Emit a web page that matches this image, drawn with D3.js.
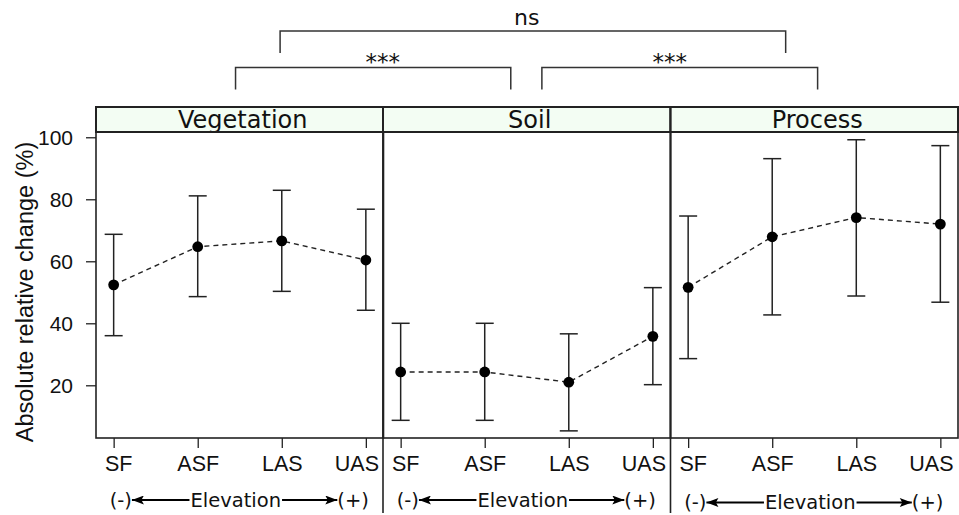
<!DOCTYPE html>
<html>
<head>
<meta charset="utf-8">
<script src="https://cdn.jsdelivr.net/npm/d3@7"></script>
<style>
  body { margin: 0; background: #fff; }
  svg { display: block; }
</style>
</head>
<body>
<div id="chart-area"></div>
<script>
// categories and values
var categories = ["SF", "ASF", "LAS", "UAS"];
var panelNames = ["Vegetation", "Soil", "Process"];

var vegMean = [52.4, 64.7, 66.6, 60.4];
var vegLow  = [36.0, 48.6, 50.3, 44.2];
var vegHigh = [68.7, 81.1, 82.9, 76.8];

var soilMean = [24.3, 24.3, 21.0, 35.8];
var soilLow  = [8.7, 8.7, 5.3, 20.2];
var soilHigh = [40.0, 40.0, 36.6, 51.5];

var procMean = [51.6, 67.9, 74.1, 72.0];
var procLow  = [28.6, 42.7, 48.8, 46.8];
var procHigh = [74.6, 93.1, 99.2, 97.3];

var yTicks = [20, 40, 60, 80, 100];

// significance brackets: panel index + position in category steps
var brackets = [
  {from: [0, 1.45], to: [1, 1.31], label: "***", labelAt: [0, 3.2], level: 0},
  {from: [1, 1.68], to: [2, 1.54], label: "***", labelAt: [1, 3.2], level: 0},
  {from: [0, 1.98], to: [2, 1.16], label: "ns",  labelAt: [1, 1.5], level: 1}
];

var width = 959, height = 515;
var stripTop = 107, plotTop = 132, plotBottom = 438;
var panelLeft = [96, 383, 670.5];
var panelW = 287.5;
var ink = "#222";
var sans = "'Liberation Sans', Arial, Helvetica, sans-serif";
var dejavu = "'DejaVu Sans', sans-serif";

var svg = d3.select("#chart-area")
  .append("svg")
    .attr("width", width)
    .attr("height", height);

var defs = svg.append("defs");
defs.append("marker")
    .attr("id", "arrow")
    .attr("viewBox", "0 0 12 9")
    .attr("refX", 12)
    .attr("refY", 4.5)
    .attr("markerWidth", 13)
    .attr("markerHeight", 9)
    .attr("markerUnits", "userSpaceOnUse")
    .attr("orient", "auto")
  .append("path")
    .attr("d", "M0,0 L12,4.5 L0,9 L2.5,4.5 Z")
    .attr("fill", "#000");

var y = d3.scaleLinear()
  .domain([3, 101.7])
  .range([plotBottom, plotTop]);

var panels = [
  {name: panelNames[0], mean: vegMean, low: vegLow, high: vegHigh},
  {name: panelNames[1], mean: soilMean, low: soilLow, high: soilHigh},
  {name: panelNames[2], mean: procMean, low: procLow, high: procHigh}
];

panels.forEach(function(p, i) {
  p.left = panelLeft[i];
  p.x = d3.scalePoint()
    .domain(categories)
    .range([p.left, p.left + panelW])
    .padding(0.21);
  p.step = p.x.step();
  p.pos = function(v) { return p.x(categories[0]) + v * p.step; };
  p.rows = categories.map(function(c, j) {
    return {cat: c, mean: p.mean[j], low: p.low[j], high: p.high[j]};
  });
});

// y axis
var yAxisCall = d3.axisLeft(y)
  .tickValues(yTicks)
  .tickSize(10)
  .tickPadding(13);
var yAxis = svg.append("g")
  .attr("transform", "translate(" + panelLeft[0] + ",0)")
  .call(yAxisCall);
yAxis.select(".domain").remove();
yAxis.selectAll("line").attr("stroke", ink).attr("stroke-width", 1.3);
yAxis.selectAll("text")
  .attr("font-family", sans)
  .attr("font-size", "21px")
  .attr("fill", "#111");

// y label
svg.append("text")
  .attr("transform", "translate(33,292) rotate(-90)")
  .attr("text-anchor", "middle")
  .attr("font-family", sans)
  .attr("font-size", "23.5px")
  .attr("fill", "#111")
  .text("Absolute relative change (%)");

panels.forEach(function(p, i) {
  var g = svg.append("g");

  // strip
  g.append("rect")
    .attr("x", p.left)
    .attr("y", stripTop)
    .attr("width", panelW)
    .attr("height", plotTop - stripTop)
    .attr("fill", "#f3fdf3")
    .attr("stroke", "#222")
    .attr("stroke-width", 2);

  g.append("text")
    .attr("x", p.left + panelW / 2 + 3)
    .attr("y", 127.5)
    .attr("text-anchor", "middle")
    .attr("font-family", dejavu)
    .attr("font-size", "24px")
    .attr("fill", "#111")
    .text(p.name);

  // x axis
  var xAxisCall = d3.axisBottom(p.x)
    .tickSize(10)
    .tickPadding(8);
  var xa = g.append("g")
    .attr("transform", "translate(0," + plotBottom + ")")
    .call(xAxisCall);
  xa.select(".domain").remove();
  xa.selectAll("line").attr("stroke", ink).attr("stroke-width", 1.3);
  // keep edge labels inside their panel
  var minX = p.left + 8.5, maxX = Math.min(p.left + panelW - 5, width - 2);
  xa.selectAll("text")
    .attr("font-family", sans)
    .attr("font-size", "21.5px")
    .attr("fill", "#111")
    .each(function(d) {
      var w = this.getComputedTextLength();
      var cx = p.x(d);
      var shift = 0;
      if (cx - w / 2 < minX) shift = minX - (cx - w / 2);
      if (cx + w / 2 > maxX) shift = maxX - (cx + w / 2);
      d3.select(this).attr("x", shift);
    });

  // panel frame
  g.append("rect")
    .attr("x", p.left)
    .attr("y", plotTop)
    .attr("width", panelW)
    .attr("height", plotBottom - plotTop)
    .attr("fill", "none")
    .attr("stroke", "#222")
    .attr("stroke-width", 1.6);

  // dashed line through means
  var line = d3.line()
    .x(function(d) { return p.x(d.cat); })
    .y(function(d) { return y(d.mean); });
  g.append("path")
    .datum(p.rows)
    .attr("d", line)
    .attr("fill", "none")
    .attr("stroke", ink)
    .attr("stroke-width", 1.4)
    .attr("stroke-dasharray", "5,4");

  // error bars
  var eb = g.selectAll(".eb")
    .data(p.rows)
    .enter().append("g")
      .attr("class", "eb")
      .attr("stroke", ink)
      .attr("stroke-width", 1.5);
  eb.append("line")
    .attr("x1", function(d) { return p.x(d.cat); })
    .attr("x2", function(d) { return p.x(d.cat); })
    .attr("y1", function(d) { return y(d.low); })
    .attr("y2", function(d) { return y(d.high); });
  eb.append("line")
    .attr("x1", function(d) { return p.x(d.cat) - 9; })
    .attr("x2", function(d) { return p.x(d.cat) + 9; })
    .attr("y1", function(d) { return y(d.low); })
    .attr("y2", function(d) { return y(d.low); });
  eb.append("line")
    .attr("x1", function(d) { return p.x(d.cat) - 9; })
    .attr("x2", function(d) { return p.x(d.cat) + 9; })
    .attr("y1", function(d) { return y(d.high); })
    .attr("y2", function(d) { return y(d.high); });

  g.selectAll(".pt")
    .data(p.rows)
    .enter().append("circle")
      .attr("class", "pt")
      .attr("cx", function(d) { return p.x(d.cat); })
      .attr("cy", function(d) { return y(d.mean); })
      .attr("r", 5.4)
      .attr("fill", "#000");

  // elevation annotation
  var rowY = i == 2 ? 509 : 506.5;
  var arrowY = rowY - 6.5;
  var fs = "19.5px";
  var minus = g.append("text")
    .attr("x", p.x(categories[0]) - 4)
    .attr("y", rowY)
    .attr("font-family", dejavu)
    .attr("font-size", fs)
    .attr("fill", "#111")
    .text("(-)");
  var plus = g.append("text")
    .attr("x", p.x(categories[3]) + 3)
    .attr("y", rowY)
    .attr("text-anchor", "end")
    .attr("font-family", dejavu)
    .attr("font-size", fs)
    .attr("fill", "#111")
    .text("(+)");
  var elevX = p.left + panelW / 2 - 4;
  var elev = g.append("text")
    .attr("x", elevX)
    .attr("y", rowY)
    .attr("text-anchor", "middle")
    .attr("font-family", dejavu)
    .attr("font-size", fs)
    .attr("fill", "#111")
    .text("Elevation");
  var ew = elev.node().getComputedTextLength();
  var mw = minus.node().getComputedTextLength();
  var pw = plus.node().getComputedTextLength();
  g.append("line")
    .attr("x1", elevX - ew / 2 - 1)
    .attr("x2", p.x(categories[0]) - 4 + mw)
    .attr("y1", arrowY).attr("y2", arrowY)
    .attr("stroke", "#000").attr("stroke-width", 2)
    .attr("marker-end", "url(#arrow)");
  g.append("line")
    .attr("x1", elevX + ew / 2 + 1)
    .attr("x2", p.x(categories[3]) + 3 - pw)
    .attr("y1", arrowY).attr("y2", arrowY)
    .attr("stroke", "#000").attr("stroke-width", 2)
    .attr("marker-end", "url(#arrow)");
});

// dividers running down through the tick labels
[1, 2].forEach(function(i) {
  svg.append("line")
    .attr("x1", panelLeft[i]).attr("x2", panelLeft[i])
    .attr("y1", stripTop).attr("y2", 513)
    .attr("stroke", "#222")
    .attr("stroke-width", 1.6);
});

// significance brackets
var levelY = [67.5, 31];
var bg = svg.append("g")
  .attr("fill", "none")
  .attr("stroke", "#333")
  .attr("stroke-width", 1.5);
brackets.forEach(function(b) {
  var x1 = panels[b.from[0]].pos(b.from[1]);
  var x2 = panels[b.to[0]].pos(b.to[1]);
  var ly = levelY[b.level];
  bg.append("path")
    .attr("d", "M" + x1 + "," + (ly + 22) + "V" + ly + "H" + x2 + "V" + (ly + 22));
  svg.append("text")
    .attr("x", panels[b.labelAt[0]].pos(b.labelAt[1]))
    .attr("y", b.level == 0 ? ly + 2 : ly - 6.5)
    .attr("text-anchor", "middle")
    .attr("font-family", dejavu)
    .attr("font-size", b.level == 0 ? "23px" : "22px")
    .attr("fill", "#111")
    .text(b.label);
});
</script>
</body>
</html>
